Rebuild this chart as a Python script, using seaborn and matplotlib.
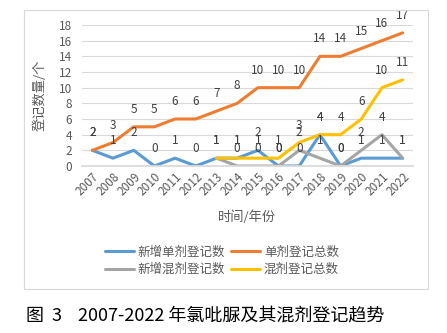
import matplotlib
matplotlib.use("Agg")
import matplotlib.pyplot as plt
import seaborn as sns
import pandas as pd
from matplotlib.patches import Rectangle
from matplotlib.lines import Line2D

years = [str(y) for y in range(2007, 2023)]
new_single = [2, 1, 2, 0, 1, 0, 1, 1, 2, 0, 0, 4, 0, 1, 1, 1]
total_single = [2, 3, 5, 5, 6, 6, 7, 8, 10, 10, 10, 14, 14, 15, 16, 17]
mix_years = [str(y) for y in range(2013, 2023)]
new_mix = [1, 0, 0, 0, 2, 1, 0, 2, 4, 1]
total_mix = [1, 1, 1, 1, 3, 4, 4, 6, 10, 11]

series_names = ["新增单剂登记数", "单剂登记总数", "新增混剂登记数", "混剂登记总数"]
colors = ["#5B9BD5", "#ED7D31", "#A5A5A5", "#FFC000"]

rows = []
for y, v in zip(years, new_single):
    rows.append((y, v, series_names[0]))
for y, v in zip(years, total_single):
    rows.append((y, v, series_names[1]))
for y, v in zip(mix_years, new_mix):
    rows.append((y, v, series_names[2]))
for y, v in zip(mix_years, total_mix):
    rows.append((y, v, series_names[3]))
df = pd.DataFrame(rows, columns=["year", "value", "series"])
df["x"] = df["year"].map({y: i for i, y in enumerate(years)})

sns.set_theme(style="white")
plt.rcParams['font.family'] = ['Noto Sans CJK SC', 'DejaVu Sans']

fig = plt.figure(figsize=(4.47, 3.33), dpi=100)
fig.patches.append(Rectangle((24/447, 1-289/333), 404/447, 279/333,
                             transform=fig.transFigure, fill=False,
                             edgecolor="#D9D9D9", linewidth=0.8))
ax = fig.add_axes([82/447, 1-166/333, 331/447, 141/333])

sns.lineplot(data=df, x="x", y="value", hue="series", hue_order=series_names,
             palette=colors, linewidth=2.2, ax=ax, sort=False, legend=False)

# data labels
for name, col in zip(series_names, colors):
    sub = df[df["series"] == name]
    for xv, yv in zip(sub["x"], sub["value"]):
        ax.annotate(str(yv), (xv, yv), xytext=(0, 12.5), textcoords="offset points",
                    ha="center", va="center", fontsize=8.5, color="#404040",
                    annotation_clip=False)

ax.set_xlim(-0.5, len(years) - 0.5)
ax.set_ylim(0, 18)
ax.set_yticks(range(0, 19, 2))
ax.set_xticks(range(len(years)))
ax.set_xticklabels(years, rotation=45, ha="right", rotation_mode="anchor")
ax.tick_params(axis="both", labelsize=8.5, labelcolor="#595959", length=0, pad=3)
ax.tick_params(axis="y", pad=7)
ax.grid(axis="y", color="#D9D9D9", linewidth=0.8)
ax.set_axisbelow(True)
for s in ["top", "right", "left"]:
    ax.spines[s].set_visible(False)
ax.spines["bottom"].set_color("#D9D9D9")
ax.set_xlabel("时间/年份", fontsize=9.5, color="#595959", labelpad=9)
ax.set_ylabel("登记数量/个", fontsize=9.5, color="#595959", labelpad=9)

order = [0, 2, 1, 3]
handles = [Line2D([0], [0], color=colors[i], linewidth=2.2) for i in order]
labels = [series_names[i] for i in order]
fig.legend(handles, labels, loc="center", bbox_to_anchor=(222/447, 1-261/333),
           ncol=2, frameon=False, fontsize=9, labelcolor="#595959",
           handlelength=2.3, columnspacing=0.5, handletextpad=0.3, labelspacing=0.35)

fig.text(26/447, 1-316/333, "图  3    2007-2022 年氯吡脲及其混剂登记趋势",
         fontsize=13, fontweight="medium", color="black", va="center", ha="left")

fig.savefig("out.png", dpi=100)
